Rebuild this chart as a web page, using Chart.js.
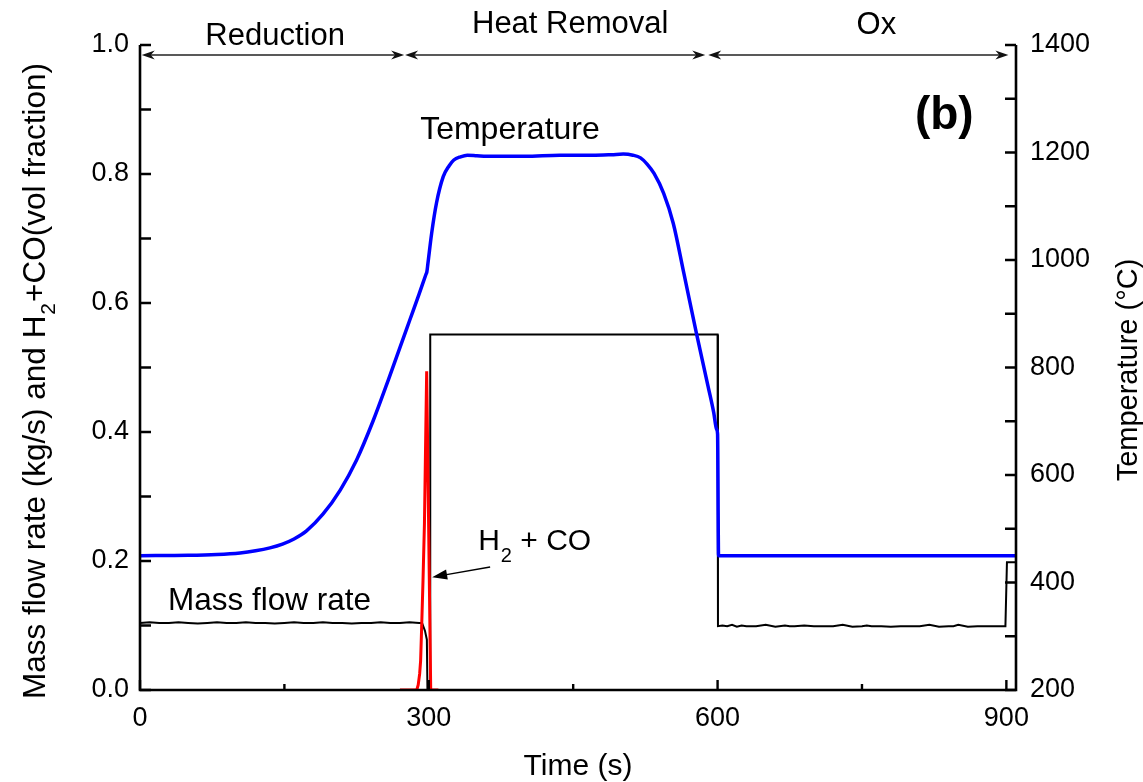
<!DOCTYPE html>
<html><head><meta charset="utf-8">
<script src="https://cdn.jsdelivr.net/npm/chart.js@4.4.0/dist/chart.umd.min.js"></script>
<style>html,body{margin:0;padding:0;background:#fff;} #wrap{width:1143px;height:782px;position:relative;}</style>
</head><body><div id="wrap"><canvas id="c"></canvas></div>
<script>
// ---------------- data ----------------
const tempTime   = [0, 50, 80, 104, 120, 135, 148, 160, 173, 190, 208, 225, 242, 258, 270, 280, 290, 297, 298, 299, 303, 308, 315, 321, 326, 333, 340, 350, 360, 374, 400, 436, 470, 490, 502, 512, 520, 527, 534, 544, 554, 565, 578, 590, 596, 599, 600, 601, 603, 650, 700, 750, 800, 850, 900, 910];
const tempValues = [450, 450.5, 452, 455, 459, 464.5, 471.5, 481, 496, 527, 572, 628, 700, 777, 837, 887, 937, 973, 978, 992, 1050, 1106, 1155, 1175, 1186, 1192, 1195, 1194, 1193, 1193, 1193, 1195, 1195, 1196, 1197, 1195, 1190, 1178, 1161, 1124, 1068, 975, 864, 766, 716, 685, 676, 450, 450, 450, 450, 450, 450, 450, 450, 450];

const flowTime   = [0, 10, 20, 30, 40, 50, 60, 70, 80, 90, 100, 110, 120, 130, 140, 150, 160, 170, 180, 190, 200, 210, 220, 230, 240, 250, 260, 270, 280, 290, 293, 296, 298, 298.6, 301.3, 301.5, 600, 600.4,
                    605, 610, 615, 620, 625, 630, 640, 650, 660, 670, 675, 680, 690, 700, 710, 720, 730, 740, 750, 755, 760, 770, 780, 790, 800, 810, 820, 830, 840, 845, 850, 860, 870, 880, 890, 899, 900.6, 910];
const flowValues = [0.104, 0.105, 0.104, 0.104, 0.105, 0.104, 0.103, 0.104, 0.105, 0.104, 0.104, 0.105, 0.104, 0.104, 0.103, 0.104, 0.105, 0.104, 0.104, 0.105, 0.104, 0.104, 0.103, 0.104, 0.104, 0.105, 0.104, 0.104, 0.105, 0.104, 0.104, 0.092, 0.078, 0.0, 0.0, 0.551, 0.551, 0.099,
                    0.100, 0.099, 0.101, 0.098, 0.100, 0.099, 0.099, 0.101, 0.098, 0.100, 0.099, 0.099, 0.100, 0.099, 0.099, 0.099, 0.101, 0.098, 0.099, 0.100, 0.099, 0.099, 0.098, 0.099, 0.099, 0.099, 0.101, 0.098, 0.099, 0.099, 0.101, 0.098, 0.099, 0.099, 0.099, 0.099, 0.198, 0.198];

const gasTime   = [270, 287.5, 289, 290.5, 291.5, 292.5, 294, 295.5, 296.9, 297.8, 299, 300.5, 302, 310];
const gasValues = [0, 0, 0.008, 0.025, 0.045, 0.093, 0.17, 0.259, 0.403, 0.494, 0.353, 0.176, 0, 0];

const xTicks = [0, 300, 600, 900];
const xMinorTicks = [150, 450, 750];
const yTicks = [0, 0.2, 0.4, 0.6, 0.8, 1.0];
const yMinorTicks = [0.1, 0.3, 0.5, 0.7, 0.9];
const y2Ticks = [200, 400, 600, 800, 1000, 1200, 1400];
const y2MinorTicks = [300, 500, 700, 900, 1100, 1300];

const phaseNames  = ['Reduction', 'Heat Removal', 'Ox'];
const phaseStart  = [1.8, 275.4, 590.3];
const phaseEnd    = [274.4, 587.2, 902.1];
const phaseLabelX = [140.4, 446.9, 765];
const phaseLabelY = [1.0, 1.0186, 1.017];

const FONT = '"Liberation Sans", Arial, sans-serif';

function pts(t, v) { return t.map((x, i) => ({ x: x, y: v[i] })); }

function arrowHead(ctx, tx, ty, dx, dy, len, half, notch) {
  const L = Math.hypot(dx, dy); dx /= L; dy /= L;
  const nx = -dy, ny = dx;
  const bx = tx - dx * len, by = ty - dy * len;
  ctx.beginPath();
  ctx.moveTo(tx, ty);
  ctx.lineTo(bx + nx * half, by + ny * half);
  ctx.lineTo(tx - dx * len * (1 - notch), ty - dy * len * (1 - notch));
  ctx.lineTo(bx - nx * half, by - ny * half);
  ctx.closePath();
  ctx.fill();
}

const framePlugin = {
  id: 'frame',
  afterDatasetsDraw(chart) {
    const ctx = chart.ctx, a = chart.chartArea;
    const sx = chart.scales.x, sy = chart.scales.y, sy2 = chart.scales.y2;
    ctx.save();
    ctx.strokeStyle = '#000'; ctx.fillStyle = '#000';
    ctx.lineWidth = 2.6; ctx.lineCap = 'butt';
    // axes
    ctx.beginPath();
    ctx.moveTo(a.left, a.top); ctx.lineTo(a.left, a.bottom); ctx.lineTo(a.right, a.bottom); ctx.lineTo(a.right, a.top);
    ctx.stroke();
    ctx.lineWidth = 2.4;
    ctx.beginPath();
    yTicks.concat(yMinorTicks).forEach(v => { const p = sy.getPixelForValue(v); ctx.moveTo(a.left, p); ctx.lineTo(a.left + 11, p); });
    y2Ticks.concat(y2MinorTicks).forEach(v => { const p = sy2.getPixelForValue(v); ctx.moveTo(a.right, p); ctx.lineTo(a.right - 11, p); });
    xTicks.forEach(v => { const p = sx.getPixelForValue(v); ctx.moveTo(p, a.bottom); ctx.lineTo(p, a.bottom - 10); });
    xMinorTicks.forEach(v => { const p = sx.getPixelForValue(v); ctx.moveTo(p, a.bottom); ctx.lineTo(p, a.bottom - 6); });
    ctx.stroke();

    // phase arrows
    ctx.lineWidth = 1.4; ctx.strokeStyle = '#222'; ctx.fillStyle = '#111';
    const ay = sy.getPixelForValue(0.9845);
    for (let i = 0; i < phaseNames.length; i++) {
      const x1 = sx.getPixelForValue(phaseStart[i]), x2 = sx.getPixelForValue(phaseEnd[i]);
      ctx.beginPath(); ctx.moveTo(x1 + 4, ay); ctx.lineTo(x2 - 4, ay); ctx.stroke();
      arrowHead(ctx, x1, ay, -1, 0, 13, 4.5, 0.3);
      arrowHead(ctx, x2, ay, 1, 0, 13, 4.5, 0.3);
    }
    ctx.fillStyle = '#000';
    ctx.font = '31px ' + FONT; ctx.textAlign = 'center'; ctx.textBaseline = 'alphabetic';
    for (let i = 0; i < phaseNames.length; i++) {
      ctx.fillText(phaseNames[i], sx.getPixelForValue(phaseLabelX[i]), sy.getPixelForValue(phaseLabelY[i]));
    }

    // in-plot labels
    ctx.textAlign = 'left';
    ctx.font = '32px ' + FONT;
    ctx.fillText('Temperature', sx.getPixelForValue(291), sy.getPixelForValue(0.854));
    ctx.font = '31.5px ' + FONT;
    ctx.fillText('Mass flow rate', sx.getPixelForValue(29), sy.getPixelForValue(0.124));
    // H2 + CO
    ctx.font = '30px ' + FONT;
    let hx = sx.getPixelForValue(351.3), hy = sy.getPixelForValue(0.217);
    ctx.fillText('H', hx, hy);
    hx += ctx.measureText('H').width + 1;
    ctx.font = '20px ' + FONT;
    ctx.fillText('2', hx, hy + 12);
    hx += ctx.measureText('2').width;
    ctx.font = '30px ' + FONT;
    ctx.fillText(' + CO', hx, hy);
    // arrow to red peak
    const ax1 = sx.getPixelForValue(363.7), ay1 = sy.getPixelForValue(0.1907);
    const ax2 = sx.getPixelForValue(303.5), ay2 = sy.getPixelForValue(0.175);
    ctx.lineWidth = 1.4; ctx.strokeStyle = '#000';
    ctx.beginPath(); ctx.moveTo(ax1, ay1); ctx.lineTo(ax2 + (ax1 - ax2) * 0.15, ay2 + (ay1 - ay2) * 0.15); ctx.stroke();
    arrowHead(ctx, ax2, ay2, ax2 - ax1, ay2 - ay1, 15, 5, 0);
    // (b)
    ctx.font = 'bold 46px ' + FONT;
    ctx.fillText('(b)', sx.getPixelForValue(805), sy.getPixelForValue(0.870));

    // axis titles
    ctx.font = '30px ' + FONT; ctx.textAlign = 'center';
    ctx.fillText('Time (s)', (a.left + a.right) / 2 + 0, 775);

    // left title with subscript
    ctx.save();
    ctx.translate(45, 381);
    ctx.rotate(-Math.PI / 2);
    ctx.textAlign = 'left';
    const p1 = 'Mass flow rate (kg/s) and H', p3 = '+CO(vol fraction)';
    ctx.font = '31.5px ' + FONT; const w1 = ctx.measureText(p1).width, w3 = ctx.measureText(p3).width;
    ctx.font = '21px ' + FONT; const w2 = ctx.measureText('2').width + 2;
    let x0 = -(w1 + w2 + w3) / 2;
    ctx.font = '31.5px ' + FONT; ctx.fillText(p1, x0, 0);
    ctx.font = '21px ' + FONT; ctx.fillText('2', x0 + w1 + 1, 10);
    ctx.font = '31.5px ' + FONT; ctx.fillText(p3, x0 + w1 + w2, 0);
    ctx.restore();

    // right title
    ctx.save();
    ctx.translate(1137, 370);
    ctx.rotate(-Math.PI / 2);
    ctx.textAlign = 'center';
    ctx.font = '29px ' + FONT;
    ctx.fillText('Temperature (\u00B0C)', 0, 0);
    ctx.restore();

    ctx.restore();
  }
};

const tickFont = { family: FONT, size: 27 };

new Chart(document.getElementById('c'), {
  type: 'line',
  data: {
    datasets: [
      { label: 'Temperature', data: pts(tempTime, tempValues), yAxisID: 'y2', borderColor: '#0000ff', borderWidth: 3.5,
        pointRadius: 0, cubicInterpolationMode: 'monotone', fill: false },
      { label: 'H2 + CO', data: pts(gasTime, gasValues), yAxisID: 'y', borderColor: '#ff0000', borderWidth: 3,
        pointRadius: 0, tension: 0, fill: false },
      { label: 'Mass flow rate', data: pts(flowTime, flowValues), yAxisID: 'y', borderColor: '#000000', borderWidth: 2,
        pointRadius: 0, tension: 0, fill: false }
    ]
  },
  options: {
    responsive: true, maintainAspectRatio: false, animation: false, devicePixelRatio: 1,
    layout: { padding: { top: 45, left: 0, right: 0, bottom: 0 } },
    plugins: { legend: { display: false }, tooltip: { enabled: false } },
    scales: {
      x: {
        type: 'linear', position: 'bottom', min: 0, max: 910,
        grid: { display: false, drawTicks: false }, border: { display: false },
        ticks: { font: tickFont, color: '#000', padding: 12, maxRotation: 0, autoSkip: false },
        afterBuildTicks: s => { s.ticks = xTicks.map(v => ({ value: v })); },
        afterFit: s => { s.height = 92; }
      },
      y: {
        type: 'linear', position: 'left', min: 0, max: 1,
        grid: { display: false, drawTicks: false }, border: { display: false },
        ticks: { font: tickFont, color: '#000', padding: 11, autoSkip: false, callback: v => Number(v).toFixed(1) },
        afterBuildTicks: s => { s.ticks = yTicks.map(v => ({ value: v })); },
        afterFit: s => { s.width = 140; }
      },
      y2: {
        type: 'linear', position: 'right', min: 200, max: 1400,
        grid: { display: false, drawTicks: false }, border: { display: false },
        ticks: { font: tickFont, color: '#000', padding: 14, autoSkip: false, callback: v => String(v) },
        afterBuildTicks: s => { s.ticks = y2Ticks.map(v => ({ value: v })); },
        afterFit: s => { s.width = 127; }
      }
    }
  },
  plugins: [framePlugin]
});
</script>
</body></html>
